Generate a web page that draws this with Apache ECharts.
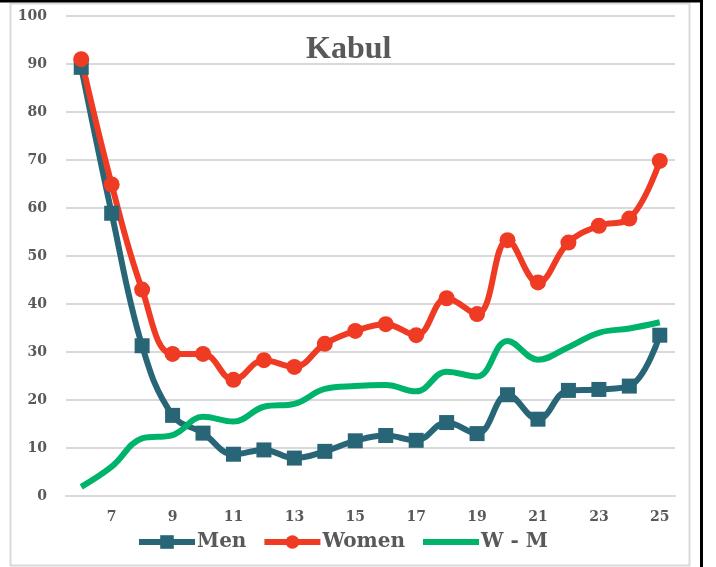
<!DOCTYPE html>
<html>
<head>
<meta charset="utf-8">
<title>Kabul</title>
<script src="https://cdn.jsdelivr.net/npm/echarts@6/dist/echarts.min.js"></script>
<style>
  html, body { margin: 0; padding: 0; background: #fff; }
  #main { width: 716px; height: 567px; }
</style>
</head>
<body>
<div id="main"></div>
<script>
// ages 6..25
var ages = ['6', '7', '8', '9', '10', '11', '12', '13', '14', '15', '16', '17', '18', '19', '20', '21', '22', '23', '24', '25'];
var men = [89.3, 58.9, 31.3, 16.8, 13.1, 8.7, 9.6, 7.9, 9.3, 11.5, 12.6, 11.6, 15.3, 13.0, 21.1, 16.0, 22.0, 22.2, 22.9, 33.5];
var women = [91.0, 64.9, 43.0, 29.6, 29.6, 24.2, 28.3, 26.9, 31.7, 34.4, 35.8, 33.5, 41.2, 37.9, 53.3, 44.5, 52.8, 56.3, 57.8, 69.8];
var diff = [1.9, 6.1, 12.0, 12.7, 16.5, 15.5, 18.6, 19.2, 22.3, 22.9, 23.1, 21.8, 25.9, 24.9, 32.3, 28.4, 31.0, 34.0, 34.9, 36.2];
var yTicks = { min: 0, max: 100, step: 10 };

var textGray = '#595959';
var labelFont = 'DejaVu Serif';

var myChart = echarts.init(document.getElementById('main'));
myChart.setOption({
  animation: false,
  backgroundColor: '#fff',
  title: {
    text: 'Kabul',
    left: 301,
    top: 29,
    textStyle: { fontFamily: 'Liberation Serif', fontWeight: 'bold', fontSize: 32, color: textGray }
  },
  // frame: light gray panel border + black outer lines top/right
  graphic: [
    { type: 'rect', shape: { x: 10.5, y: 3.5, width: 679, height: 562 }, style: { fill: 'none', stroke: '#d9d9d9', lineWidth: 2 }, silent: true },
    { type: 'line', shape: { x1: 0, y1: 1, x2: 703, y2: 1 }, style: { stroke: '#000', lineWidth: 3 }, silent: true },
    { type: 'line', shape: { x1: 701.5, y1: 0, x2: 701.5, y2: 567 }, style: { stroke: '#000', lineWidth: 3 }, silent: true }
  ],
  grid: { left: 66, right: 41, top: 16, bottom: 71 },
  legend: {
    top: 527,
    left: 131,
    itemWidth: 56,
    itemHeight: 17,
    itemGap: 15,
    lineStyle: { width: 6 },
    textStyle: { fontFamily: labelFont, fontWeight: 'bold', fontSize: 20, color: textGray, padding: [0, 0, 0, -3] },
    data: ['Men', 'Women', { name: 'W - M', itemStyle: { opacity: 0 } }]
  },
  xAxis: {
    type: 'category',
    data: ages,
    boundaryGap: true,
    axisLine: { show: true, lineStyle: { color: '#d9d9d9', width: 2 } },
    axisTick: { show: false },
    axisLabel: {
      interval: function (idx) { return idx % 2 === 1; },
      margin: 14,
      fontFamily: labelFont, fontWeight: 'bold', fontSize: 14, color: textGray
    }
  },
  yAxis: {
    type: 'value',
    min: yTicks.min,
    max: yTicks.max,
    interval: yTicks.step,
    axisLine: { show: false },
    axisTick: { show: false },
    splitLine: { lineStyle: { color: '#d9d9d9', width: 2 } },
    axisLabel: { margin: 19, fontFamily: labelFont, fontWeight: 'bold', fontSize: 14, color: textGray }
  },
  series: [
    {
      name: 'Men', type: 'line', data: men, smooth: 0.4,
      symbol: 'rect', symbolSize: 15,
      lineStyle: { width: 6, color: '#286677' },
      itemStyle: { color: '#286677' }
    },
    {
      name: 'Women', type: 'line', data: women, smooth: 0.4,
      symbol: 'circle', symbolSize: 16,
      lineStyle: { width: 6, color: '#ef3b24' },
      itemStyle: { color: '#ef3b24' }
    },
    {
      name: 'W - M', type: 'line', data: diff, smooth: 0.4,
      symbol: 'none',
      lineStyle: { width: 6, color: '#00b36b' },
      itemStyle: { color: '#00b36b' }
    }
  ]
});
</script>
</body>
</html>
